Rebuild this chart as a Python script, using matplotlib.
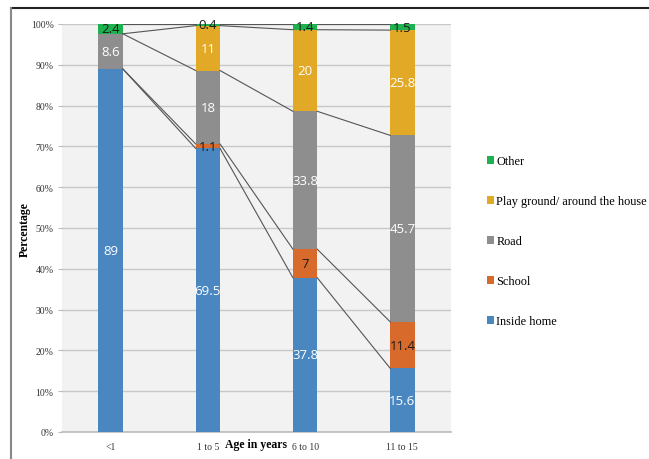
import matplotlib

matplotlib.use("Agg")
import matplotlib.pyplot as plt
from matplotlib.lines import Line2D
from matplotlib.patches import Patch
import numpy as np


AGE_GROUPS = ["<1", "1 to 5", "6 to 10", "11 to 15"]
SERIES = ["Inside home", "School", "Road", "Play ground/ around the house", "Other"]
INSIDE_HOME = [89, 69.5, 37.8, 15.6]
SCHOOL = [0, 1.1, 7, 11.4]
ROAD = [8.6, 18, 33.8, 45.7]
PLAYGROUND = [0, 11, 20, 25.8]
OTHER = [2.4, 0.4, 1.4, 1.5]
YTICKS = [0, 10, 20, 30, 40, 50, 60, 70, 80, 90, 100]

COLORS = ["#4a86c0", "#d86a2b", "#8e8e8e", "#e2a927", "#1fb150"]
TEXT_COLORS = ["white", "#1a1a1a", "white", "white", "#1a1a1a"]
SERIF = "Liberation Serif"
SANS = "Open Sans"

values = np.array([INSIDE_HOME, SCHOOL, ROAD, PLAYGROUND, OTHER], dtype=float)
x = np.arange(len(AGE_GROUPS))
width = 0.25

fig = plt.figure(figsize=(6.49, 4.6), dpi=100)
ax = fig.add_axes([62 / 649, 1 - 433 / 460, 389 / 649, 408 / 460])
ax.set_facecolor("#f2f2f2")

bottoms = np.zeros(len(AGE_GROUPS))
tops = []
for name, vals, color, tcolor in zip(SERIES, values, COLORS, TEXT_COLORS):
    ax.bar(x, vals, width, bottom=bottoms, color=color, zorder=3)
    for xi, b, v in zip(x, bottoms, vals):
        if v > 0:
            ax.text(xi, b + v / 2, f"{v:g}", ha="center", va="center",
                    fontsize=9.5, color=tcolor, family=SANS, zorder=5)
    bottoms = bottoms + vals
    tops.append(bottoms.copy())

# series lines joining segment tops between neighbouring bars
for top in tops:
    for i in range(len(x) - 1):
        ax.plot([x[i] + width / 2, x[i + 1] - width / 2], [top[i], top[i + 1]],
                color="#555555", lw=0.8, zorder=4)

ax.set_xlim(-0.5, len(x) - 0.5)
ax.set_ylim(0, 100)
ax.set_yticks(YTICKS)
ax.set_yticklabels([f"{t}%" for t in YTICKS], family=SERIF, fontsize=7, color="#333333")
ax.set_xticks(x)
ax.set_xticklabels(AGE_GROUPS, family=SERIF, fontsize=7, color="#333333")
ax.tick_params(axis="x", length=0, pad=7)
ax.tick_params(axis="y", length=3, color="#bbbbbb", pad=3)
ax.grid(axis="y", color="#c8c8c8", lw=1, zorder=0)
for side in ["top", "right", "left"]:
    ax.spines[side].set_visible(False)
ax.spines["bottom"].set_color("#bbbbbb")
ax.spines["bottom"].set_linewidth(1.2)

fig.text(25 / 649, 1 - 230 / 460, "Percentage", rotation=90, ha="center", va="center",
         family=SERIF, fontsize=8.5, fontweight="bold")
fig.text(256 / 649, 1 - 445 / 460, "Age in years", ha="center", va="center",
         family=SERIF, fontsize=8.5, fontweight="bold")

handles = [Patch(facecolor=c, label=s) for s, c in zip(SERIES, COLORS)][::-1]
leg = fig.legend(handles=handles, loc="upper left", bbox_to_anchor=(476 / 649, 1 - 145 / 460),
                 frameon=False, prop={"family": SERIF, "size": 8.8},
                 handlelength=0.6, handleheight=0.6, handletextpad=0.15, labelspacing=2.3)

# outer frame
fig.add_artist(Line2D([11 / 649, 1], [1 - 9 / 460, 1 - 9 / 460], color="#222222", lw=1.5))
fig.add_artist(Line2D([11 / 649, 11 / 649], [0, 1 - 9 / 460], color="#888888", lw=1.5))

fig.savefig("out.png", dpi=100)
